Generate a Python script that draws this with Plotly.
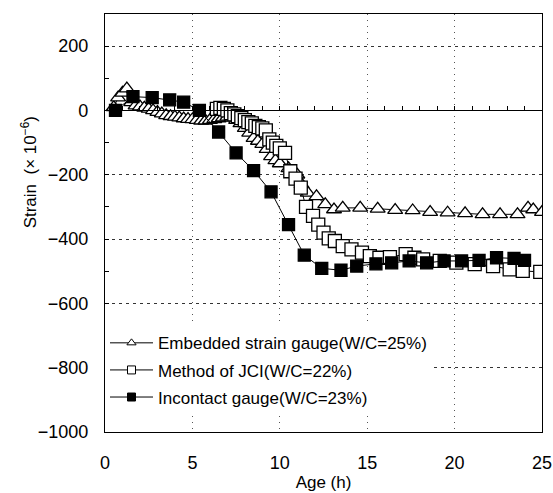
import plotly.graph_objects as go

# Embedded strain gauge (W/C=25%)
emb_x = [0.5, 0.75, 1.0, 1.25, 1.5, 1.75, 2.0, 2.25, 2.5, 2.75, 3.0, 3.25, 3.5, 3.75, 4.0, 4.25,
         4.5, 4.75, 5.0, 5.25, 5.5, 5.75, 6.0, 6.25, 6.5, 6.75, 7.0, 7.25, 7.5, 7.75, 8.0, 8.25,
         8.5, 8.75, 9.0, 9.25, 9.5, 9.75, 10.0, 10.5, 11.0, 11.25, 11.6, 12.1, 12.6, 13.1, 13.6,
         14.6, 15.6, 16.6, 17.6, 18.6, 19.6, 20.6, 21.6, 22.6, 23.6, 24.2, 24.5, 25.0]
emb_y = [10, 40, 55, 68, 25, 15, 12, 8, 5, 0, -5, -10, -15, -18, -20, -22,
         -25, -27, -28, -30, -32, -32, -30, -28, -25, -22, -20, -22, -30, -40, -55, -70,
         -86, -95, -105, -120, -143, -155, -165, -180, -200, -230, -256, -267, -292, -308, -303,
         -303, -306, -310, -311, -316, -318, -320, -323, -323, -323, -303, -308, -316]

# Method of JCI (W/C=22%)
jci_x = [6.4, 6.6, 6.8, 7.0, 7.2, 7.4, 7.6, 7.8, 8.0, 8.2, 8.4, 8.6, 8.8, 9.0, 9.2, 9.4, 9.6, 9.8,
         10.0, 10.3, 10.6, 10.9, 11.2, 11.5, 11.9, 12.2, 12.5, 12.8, 13.15, 13.6, 14.1, 14.7,
         15.15, 15.7, 16.3, 17.2, 17.7, 18.2, 19.15, 20.1, 21.15, 22.2, 23.15, 23.9, 24.9]
jci_y = [5, 8, 5, 0, -8, -12, -18, -24, -30, -36, -40, -48, -52, -56, -62, -90, -100, -110,
         -118, -132, -189, -212, -240, -300, -328, -355, -380, -398, -406, -422, -432, -442,
         -453, -458, -456, -447, -458, -463, -468, -473, -478, -484, -494, -499, -502]

# Incontact gauge (W/C=23%)
inc_x = [0.6, 1.6, 2.7, 3.7, 4.5, 5.4, 6.5, 7.5, 8.5, 9.5, 10.5, 11.4, 12.4, 13.5, 14.4, 15.5,
         16.4, 17.4, 18.4, 19.4, 20.4, 21.4, 22.4, 23.4, 24.0]
inc_y = [0, 43, 40, 33, 26, 0, -67, -132, -187, -253, -355, -450, -491, -497, -484, -477,
         -474, -468, -474, -468, -468, -466, -458, -460, -466]

names = ["Embedded strain gauge(W/C=25%)", "Method of JCI(W/C=22%)", "Incontact gauge(W/C=23%)"]
x_ticks = [0, 5, 10, 15, 20, 25]
y_ticks = [200, 0, -200, -400, -600, -800, -1000]

FONT = "Liberation Sans, Arial, sans-serif"

series = [
    (emb_x, emb_y, "triangle-up", 13, "white"),
    (jci_x, jci_y, "square", 13, "white"),
    (inc_x, inc_y, "square", 12, "black"),
]

fig = go.Figure()
for (xs, ys, sym, sz, fill), nm in zip(series, names):
    fig.add_trace(go.Scatter(
        x=xs, y=ys, mode="lines+markers", name=nm, showlegend=False,
        line=dict(color="black", width=1),
        marker=dict(symbol=sym, size=sz, color=fill, line=dict(color="black", width=1.3)),
    ))
# legend entries with small symbols, as in the reference legend
for (xs, ys, sym, sz, fill), nm, grp in zip(series, names, ["a", "b", "c"]):
    fig.add_trace(go.Scatter(
        x=[None], y=[None], mode="lines+markers", name=nm, legendgroup=grp,
        line=dict(color="black", width=1),
        marker=dict(symbol=sym, size=8, color=fill, line=dict(color="black", width=1)),
    ))
# carrier for the zero-line axis (hour ticks on y=0)
fig.add_trace(go.Scatter(x=[None], y=[None], xaxis="x2", showlegend=False, hoverinfo="skip"))

fig.update_layout(
    width=553, height=493,
    margin=dict(l=105, r=11, t=14, b=61, autoexpand=False),
    paper_bgcolor="white", plot_bgcolor="white",
    font=dict(family=FONT, size=17, color="black"),
    showlegend=True,
    legend=dict(
        x=0.0, y=0.04, xanchor="left", yanchor="bottom",
        bgcolor="white", borderwidth=0,
        font=dict(family=FONT, size=17, color="black"),
        traceorder="grouped", tracegroupgap=2,
        itemwidth=43,
    ),
    xaxis=dict(
        range=[0, 25], tickvals=x_ticks, ticks="", showline=True, linecolor="black",
        linewidth=1.2, mirror=True, showgrid=True, gridcolor="#555", griddash="1px,5px",
        gridwidth=1, zeroline=False, ticklabelstandoff=14, automargin=False,
        title=dict(text="Age (h)", standoff=4, font=dict(size=17)),
        tickfont=dict(size=18),
    ),
    xaxis2=dict(
        overlaying="x", matches="x", anchor="free", position=1 - 300 / 1300,
        range=[0, 25], dtick=1, tick0=0, ticks="inside", ticklen=4, tickcolor="black",
        showticklabels=False, showline=True, linecolor="black", linewidth=1.2,
        showgrid=False, zeroline=False, automargin=False,
    ),
    yaxis=dict(
        range=[-1000, 300], tickvals=y_ticks,
        ticktext=[("\u2212" + str(-v)) if v < 0 else str(v) for v in y_ticks],
        ticks="inside", ticklen=4, tickcolor="black",
        minor=dict(dtick=100, tick0=0, ticks="inside", ticklen=4, tickcolor="black", showgrid=False),
        showline=True, linecolor="black", linewidth=1.2, mirror=True,
        showgrid=True, gridcolor="#333", griddash="3px,4px", gridwidth=1,
        zeroline=False, ticklabelstandoff=12, automargin=False,
        tickfont=dict(size=18),
    ),
    annotations=[dict(
        text="Strain \u00a0(\u00d7 10<sup>\u22126</sup>)", textangle=-90,
        xref="paper", yref="paper", x=-0.175, y=0.62, xanchor="center", yanchor="middle",
        showarrow=False, font=dict(family=FONT, size=17, color="black"),
    )],
)

fig.write_html("out.html", config={"displayModeBar": False},
               post_script="document.body.style.margin='0';")
